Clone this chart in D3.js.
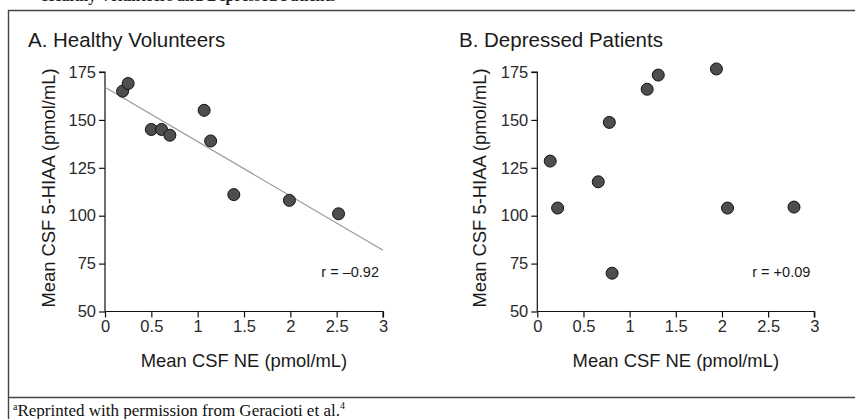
<!DOCTYPE html>
<meta charset="utf-8">
<style>
* { margin: 0; padding: 0; }
body { background: #fff; }
svg { display: block; font-family: "Liberation Sans", Arial, sans-serif; }
.tick text { font-size: 16.5px; fill: #2a2a2a; }
.domain, .tick line { stroke: #111; stroke-width: 1.2; }
.dot { fill: #4d4e50; stroke: #111; stroke-width: 1; }
</style>
<body>
<script src="https://cdn.jsdelivr.net/npm/d3@7"></script>
<script>

// healthy volunteers: NE, 5-HIAA
var healthyNE    = [0.19, 0.25, 0.50, 0.61, 0.70, 1.07, 1.14, 1.39, 1.99, 2.52];
var healthyHIAA  = [165, 169, 145, 145, 142, 155, 139, 111, 108, 101];
// depressed patients
var depressedNE   = [0.14, 0.22, 0.66, 0.78, 0.81, 1.19, 1.31, 1.94, 2.06, 2.78];
var depressedHIAA = [128.5, 104, 117.7, 148.7, 70, 166, 173.4, 176.6, 104, 104.5];

var xTicks = [0, 0.5, 1, 1.5, 2, 2.5, 3];
var yTicks = [50, 75, 100, 125, 150, 175];
var fitLine = [[0, 167], [3, 82]];

var width = 855, height = 419;

var svg = d3.select("body").append("svg")
    .attr("width", width)
    .attr("height", height);

// frame (heading is cropped at the top edge, as in the source)
svg.append("text")
    .attr("x", 42).attr("y", 1)
    .style("font-family", "'Liberation Serif', serif")
    .style("font-weight", "bold")
    .style("font-size", "16px")
    .attr("fill", "#222")
    .text("Healthy Volunteers and Depressed Patients");

svg.append("path")
    .attr("d", "M855,10.5H8.5V419M8.5,397.5H855")
    .attr("fill", "none")
    .attr("stroke", "#444")
    .attr("stroke-width", 1.4);

var foot = svg.append("text")
    .attr("x", 13).attr("y", 416)
    .style("font-family", "'Liberation Serif', serif")
    .style("font-size", "17px")
    .attr("fill", "#111");
foot.append("tspan").attr("dy", -6).style("font-size", "10px").text("a");
foot.append("tspan").attr("dy", 6).text("Reprinted with permission from Geracioti et al.");
foot.append("tspan").attr("dy", -7).style("font-size", "10px").text("4");

function panel(opts) {
    var x = d3.scaleLinear().domain([0, 3]).range([opts.x0, opts.x1]);
    var y = d3.scaleLinear().domain([50, 175]).range([311.5, 72]);

    svg.append("text")
        .attr("x", opts.titleX).attr("y", 47)
        .style("font-size", "20.5px")
        .attr("fill", "#1a1a1a")
        .text(opts.title);

    svg.append("g")
        .attr("transform", "translate(0,311.5)")
        .call(d3.axisBottom(x).tickValues(xTicks).tickFormat(d3.format("")).tickSize(6).tickPadding(3))
        .call(function(g) { g.select(".domain").attr("d", "M" + opts.x0 + ",0H" + opts.x1 + "V6"); });

    svg.append("g")
        .attr("transform", "translate(" + opts.x0 + ",0)")
        .call(d3.axisLeft(y).tickValues(yTicks).tickSize(6).tickPadding(3))
        .call(function(g) { g.select(".domain").attr("d", "M-6,72H0V311.5"); });

    svg.append("text")
        .attr("transform", "translate(" + opts.ylabX + ",188) rotate(-90)")
        .attr("text-anchor", "middle")
        .style("font-size", "18.4px")
        .attr("fill", "#1a1a1a")
        .text("Mean CSF 5-HIAA (pmol/mL)");

    svg.append("text")
        .attr("x", (opts.x0 + opts.x1) / 2).attr("y", 367)
        .attr("text-anchor", "middle")
        .style("font-size", "18.4px")
        .attr("fill", "#1a1a1a")
        .text("Mean CSF NE (pmol/mL)");

    if (opts.fit) {
        svg.append("line")
            .attr("x1", x(opts.fit[0][0])).attr("y1", y(opts.fit[0][1]))
            .attr("x2", x(opts.fit[1][0])).attr("y2", y(opts.fit[1][1]))
            .attr("stroke", "#9a9a9a")
            .attr("stroke-width", 1.2);
    }

    svg.append("text")
        .attr("x", opts.x1 - 4).attr("y", 277)
        .attr("text-anchor", "end")
        .style("font-size", "14.5px")
        .attr("fill", "#1a1a1a")
        .text(opts.r);

    svg.selectAll(null)
        .data(opts.ne.map(function(d, i) { return [d, opts.hiaa[i]]; }))
        .enter().append("circle")
        .attr("class", "dot")
        .attr("cx", function(d) { return x(d[0]); })
        .attr("cy", function(d) { return y(d[1]); })
        .attr("r", 6);
}

panel({ x0: 105, x1: 383, titleX: 28, ylabX: 55, title: "A. Healthy Volunteers",
        ne: healthyNE, hiaa: healthyHIAA, fit: fitLine, r: "r = \u20130.92" });
panel({ x0: 537.3, x1: 814.3, titleX: 459, ylabX: 486, title: "B. Depressed Patients",
        ne: depressedNE, hiaa: depressedHIAA, fit: null, r: "r = +0.09" });

</script>
